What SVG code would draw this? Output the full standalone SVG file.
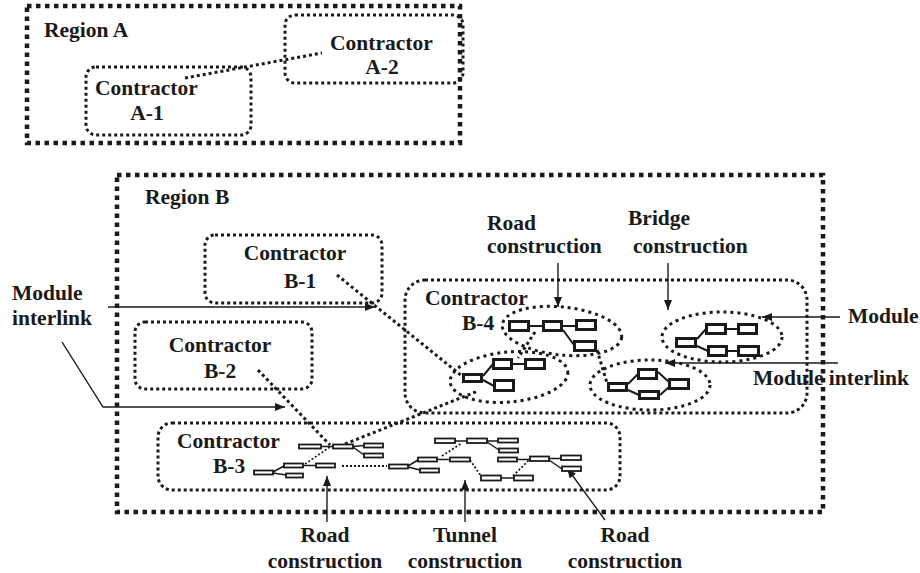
<svg xmlns="http://www.w3.org/2000/svg" width="920" height="573" viewBox="0 0 920 573">
  <style>
    .lbl { font-family: "Liberation Serif", "Times New Roman", serif; font-weight: bold; font-size: 21.5px; fill: #1a1a1a; }
    .mid { text-anchor: middle; }
    .region { fill: none; stroke: #1a1a1a; stroke-width: 4.5; stroke-dasharray: 4.5 4.5; }
    .contractor { fill: none; stroke: #1a1a1a; stroke-width: 3; stroke-dasharray: 3 3; }
    .module-ring { fill: none; stroke: #1a1a1a; stroke-width: 3; stroke-dasharray: 3 4; }
    .link { fill: none; stroke: #1a1a1a; stroke-width: 3; stroke-dasharray: 3 3; }
    .link-thin { fill: none; stroke: #1a1a1a; stroke-width: 1.8; stroke-dasharray: 2 2; }
    .mod { fill: #fff; stroke: #1a1a1a; stroke-width: 3; }
    .mod-s { fill: #fff; stroke: #1a1a1a; stroke-width: 1.8; }
    .wire { fill: none; stroke: #1a1a1a; stroke-width: 2; }
    .wire-s { fill: none; stroke: #1a1a1a; stroke-width: 1.5; }
    .arrow { fill: none; stroke: #1a1a1a; stroke-width: 1.4; marker-end: url(#head); }
  </style>
  <defs>
    <marker id="head" viewBox="0 0 10 8" refX="10" refY="4" markerWidth="10" markerHeight="8" markerUnits="userSpaceOnUse" orient="auto">
      <path d="M0,0 L10,4 L0,8 Z" fill="#1a1a1a"/>
    </marker>
  </defs>
  <rect width="920" height="573" fill="#fff"/>

  <!-- Region A -->
  <g id="region-a">
    <rect class="region" x="27" y="6" width="433" height="137"/>
    <text class="lbl" x="44" y="37">Region A</text>
  </g>
  <g id="contractor-a1">
    <rect class="contractor" x="86" y="67" width="165" height="68" rx="10"/>
    <text class="lbl" x="95" y="95">Contractor</text>
    <text class="lbl mid" x="147" y="120">A-1</text>
  </g>
  <g id="contractor-a2">
    <rect class="contractor" x="285" y="15" width="178" height="68" rx="10"/>
    <text class="lbl" x="330" y="50">Contractor</text>
    <text class="lbl mid" x="382" y="74">A-2</text>
  </g>

  <!-- Region B -->
  <g id="region-b">
    <rect class="region" x="117" y="175" width="706" height="337"/>
    <text class="lbl" x="145" y="204">Region B</text>
  </g>
  <g id="contractor-b1">
    <rect class="contractor" x="205" y="235" width="177" height="68" rx="10"/>
    <text class="lbl mid" x="295" y="260">Contractor</text>
    <text class="lbl mid" x="300" y="288">B-1</text>
  </g>
  <g id="contractor-b2">
    <rect class="contractor" x="135" y="322" width="177" height="67" rx="10"/>
    <text class="lbl mid" x="220" y="352">Contractor</text>
    <text class="lbl mid" x="220" y="378">B-2</text>
  </g>
  <g id="contractor-b4">
    <rect class="contractor" x="405" y="280" width="402" height="133" rx="20"/>
    <text class="lbl" x="425" y="305">Contractor</text>
    <text class="lbl" x="462" y="330">B-4</text>
  </g>
  <g id="contractor-b3">
    <rect class="contractor" x="158" y="423" width="462" height="67" rx="14"/>
    <text class="lbl" x="177" y="448">Contractor</text>
    <text class="lbl" x="213" y="473">B-3</text>
  </g>

  <!-- Module rings inside B-4 -->
  <g id="ring-road-b4">
    <ellipse class="module-ring" cx="562" cy="331" rx="60" ry="24" transform="rotate(6 562 331)"/>
  </g>
  <g id="ring-left-b4">
    <ellipse class="module-ring" cx="509" cy="377" rx="59" ry="25" transform="rotate(-5 509 377)"/>
  </g>
  <g id="ring-bridge-upper">
    <ellipse class="module-ring" cx="722" cy="337" rx="60" ry="25"/>
  </g>
  <g id="ring-bridge-lower">
    <ellipse class="module-ring" cx="650" cy="385" rx="60" ry="25"/>
  </g>

  <!-- Connectors -->
  <g id="connectors">
    <line class="link" x1="185" y1="78" x2="322" y2="53"/>
    <line class="link" x1="337" y1="275" x2="462" y2="376"/>
    <line class="link" x1="258" y1="370" x2="330" y2="445"/>
    <line class="link" x1="345" y1="444" x2="478" y2="391"/>
    <line class="link" x1="535" y1="332" x2="518" y2="358"/>
    <line class="link" x1="597" y1="350" x2="607" y2="383"/>
    <line class="link-thin" x1="305" y1="464" x2="330" y2="447"/>
    <line class="link-thin" x1="342" y1="466" x2="387" y2="466"/>
    <line class="link-thin" x1="442" y1="456" x2="462" y2="443"/>
    <line class="link-thin" x1="470" y1="460" x2="481" y2="476"/>
    <line class="link-thin" x1="513" y1="476" x2="530" y2="459"/>

    <!-- labelled arrows -->
    <line class="arrow" x1="108" y1="307" x2="375" y2="307"/>
    <polyline class="arrow" points="62,342 103,407 285,407"/>
    <line class="arrow" x1="558" y1="263" x2="558" y2="307"/>
    <line class="arrow" x1="668" y1="263" x2="668" y2="310"/>
    <line class="arrow" x1="840" y1="317" x2="762" y2="317"/>
    <line class="arrow" x1="838" y1="363" x2="665" y2="363"/>
    <line class="arrow" x1="327" y1="522" x2="327" y2="476"/>
    <line class="arrow" x1="465" y1="522" x2="465" y2="480"/>
    <line class="arrow" x1="605" y1="520" x2="567" y2="468"/>
  </g>

  <!-- Road construction modules, B-4 -->
  <g id="modules-road-b4">
    <path class="wire" d="M530,326 H543 M563,326 H576 M563,330 L574,345"/>
    <rect class="mod" x="509.5" y="321.5" width="19" height="9"/>
    <rect class="mod" x="543.5" y="321.5" width="18" height="9"/>
    <rect class="mod" x="576.5" y="320.5" width="19" height="9"/>
    <rect class="mod" x="574.5" y="341.5" width="21" height="9"/>
  </g>
  <g id="modules-left-b4">
    <path class="wire" d="M483,376 L493,364 M483,380 L494,386 M513,364 H525"/>
    <rect class="mod" x="463.5" y="374.5" width="18" height="7"/>
    <rect class="mod" x="493.5" y="359.5" width="18" height="9"/>
    <rect class="mod" x="525.5" y="359.5" width="19" height="9"/>
    <rect class="mod" x="494.5" y="380.5" width="19" height="10"/>
  </g>
  <g id="modules-bridge-upper">
    <path class="wire" d="M697,339 L706,329 M697,346 L708,351 M727,329 H738 M728,351 H738"/>
    <rect class="mod" x="676.5" y="338.5" width="19" height="8"/>
    <rect class="mod" x="706.5" y="324.5" width="19" height="9"/>
    <rect class="mod" x="738.5" y="324.5" width="18" height="9"/>
    <rect class="mod" x="708.5" y="346.5" width="18" height="9"/>
    <rect class="mod" x="738.5" y="346.5" width="20" height="9"/>
  </g>
  <g id="modules-bridge-lower">
    <path class="wire" d="M628,384 L638,374 M628,390 L639,395 M658,372 L669,382 M660,395 L669,387"/>
    <rect class="mod" x="608.5" y="383.5" width="18" height="7"/>
    <rect class="mod" x="638.5" y="369.5" width="18" height="9"/>
    <rect class="mod" x="639.5" y="391.5" width="19" height="7"/>
    <rect class="mod" x="669.5" y="379.5" width="19" height="9"/>
  </g>

  <!-- Modules, B-3 -->
  <g id="modules-road-b3-top">
    <path class="wire-s" d="M321,446.5 H333 M353,446.5 L364,445.5 M353,447 L364,455"/>
    <rect class="mod-s" x="299" y="444.5" width="22" height="4"/>
    <rect class="mod-s" x="333" y="444.5" width="20" height="4"/>
    <rect class="mod-s" x="364" y="443.5" width="19" height="4"/>
    <rect class="mod-s" x="364" y="453.5" width="19" height="4"/>
  </g>
  <g id="modules-road-b3-low">
    <path class="wire-s" d="M273,472 L284,466 M273,473 L286,475 M303,465.5 H316"/>
    <rect class="mod-s" x="254" y="470.5" width="19" height="4"/>
    <rect class="mod-s" x="284" y="463.5" width="19" height="4"/>
    <rect class="mod-s" x="286" y="473.5" width="17" height="4"/>
    <rect class="mod-s" x="316" y="463.5" width="19" height="4"/>
  </g>
  <g id="modules-tunnel-left">
    <path class="wire-s" d="M408,466 L418,460 M408,467 L420,470 M437,459.5 H450"/>
    <rect class="mod-s" x="389" y="464.5" width="19" height="4"/>
    <rect class="mod-s" x="418" y="457.5" width="19" height="4"/>
    <rect class="mod-s" x="420" y="468.5" width="19" height="4"/>
    <rect class="mod-s" x="450" y="457.5" width="20" height="4"/>
  </g>
  <g id="modules-tunnel-top">
    <path class="wire-s" d="M455,441 H467 M487,441 H498 M487,442 L499,450"/>
    <rect class="mod-s" x="435" y="438.5" width="20" height="4.5"/>
    <rect class="mod-s" x="467" y="438.5" width="20" height="4.5"/>
    <rect class="mod-s" x="498" y="438.5" width="20" height="4"/>
    <rect class="mod-s" x="499" y="448.5" width="19" height="4"/>
  </g>
  <g id="modules-tunnel-low">
    <path class="wire-s" d="M501,478 H514"/>
    <rect class="mod-s" x="481" y="475.5" width="20" height="5"/>
    <rect class="mod-s" x="514" y="475.5" width="19" height="5"/>
  </g>
  <g id="modules-road-b3-right">
    <path class="wire-s" d="M517,459.5 H530 M549,458.5 H561 M549,460 L562,469"/>
    <rect class="mod-s" x="498" y="457.5" width="19" height="4"/>
    <rect class="mod-s" x="530" y="456.5" width="19" height="4.5"/>
    <rect class="mod-s" x="561" y="455.5" width="20" height="4.5"/>
    <rect class="mod-s" x="562" y="466.5" width="19" height="4.5"/>
  </g>

  <!-- Callout labels -->
  <g id="label-module-interlink-left">
    <text class="lbl" x="12" y="300">Module</text>
    <text class="lbl" x="12" y="325">interlink</text>
  </g>
  <g id="label-road-top">
    <text class="lbl" x="487" y="230">Road</text>
    <text class="lbl" x="487" y="253">construction</text>
  </g>
  <g id="label-bridge">
    <text class="lbl" x="628" y="225">Bridge</text>
    <text class="lbl" x="633" y="253">construction</text>
  </g>
  <g id="label-module">
    <text class="lbl" x="848" y="323">Module</text>
  </g>
  <g id="label-module-interlink-right">
    <text class="lbl" x="753" y="385">Module interlink</text>
  </g>
  <g id="label-road-left">
    <text class="lbl mid" x="325" y="542">Road</text>
    <text class="lbl mid" x="325" y="568">construction</text>
  </g>
  <g id="label-tunnel">
    <text class="lbl mid" x="465" y="542">Tunnel</text>
    <text class="lbl mid" x="465" y="568">construction</text>
  </g>
  <g id="label-road-right">
    <text class="lbl mid" x="625" y="542">Road</text>
    <text class="lbl mid" x="625" y="568">construction</text>
  </g>
</svg>
